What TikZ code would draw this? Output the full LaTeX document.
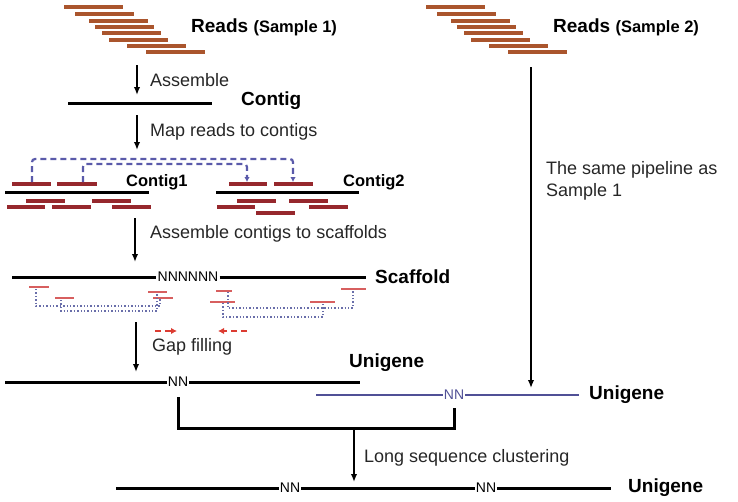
\documentclass[tikz,border=0pt]{standalone}
\usepackage{fontspec}
\setmainfont{Liberation Sans}
\usetikzlibrary{arrows.meta}
\definecolor{readbrown}{RGB}{170,85,45}
\definecolor{mapred}{RGB}{150,40,45}
\definecolor{gapred}{RGB}{220,60,50}
\definecolor{shortred}{RGB}{215,95,95}
\definecolor{linkblue}{RGB}{90,90,170}
\definecolor{dotblue}{RGB}{105,110,170}
\definecolor{uniblue}{RGB}{80,80,150}
\tikzset{
  read/.style={readbrown,line width=3.2pt},
  ctgread/.style={mapred,line width=3.2pt},
  shortread/.style={shortred,line width=1.5pt},
  seq/.style={black,line width=3pt},
  flow/.style={-{Latex[length=8pt,width=6.5pt]},line width=1.7pt},
  link/.style={linkblue,line width=2.2pt,dash pattern=on 6pt off 4pt,rounded corners=3pt,-{Latex[length=5pt,width=5.5pt]}},
  dotlink/.style={dotblue,line width=1.4pt,dash pattern=on 1.4pt off 2pt},
  gaparrow/.style={gapred,line width=2.6pt,dash pattern=on 6pt off 4pt,-{Latex[length=6pt,width=6.5pt]}},
  txt/.style={anchor=west,inner sep=0pt,text=black!85,font=\fontsize{18}{22}\selectfont},
  seqname/.style={anchor=west,inner sep=0pt,font=\fontsize{19}{22}\selectfont\bfseries},
  ctgname/.style={anchor=west,inner sep=0pt,font=\fontsize{16.5}{20}\selectfont\bfseries},
  nn/.style={inner sep=1pt,font=\fontsize{14}{14}\selectfont}
}
\begin{document}
\begin{tikzpicture}[x=1pt,y=-1pt]
\useasboundingbox (0,0) rectangle (738,501);

%reads of both samples
\foreach \s/\dx in {1/0,2/362}{
  \foreach \xa/\ya in {64/7,75/14,89/21,95/27,102/33,109/40,127/46,146/52}
    \draw[read] (\xa+\dx,\ya) -- ++(59,0);
  \node[seqname] (reads\s) at (191+\dx,27) {Reads {\fontsize{16.5}{18}\selectfont (Sample \s)}};
}

%assemble
\coordinate (as1) at (137,65);
\coordinate (ae1) at (137,95);
\draw[flow] (as1) -- (ae1);
\node[txt] (assemble) at (150,80) {Assemble};
\draw[seq] (68,103) -- (212,103);
\node[seqname] (contig) at (241,101) {Contig};

%map reads
\coordinate (as2) at (137,115);
\coordinate (ae2) at (137,150);
\draw[flow] (as2) -- (ae2);
\node[txt] (mapreads) at (150,132) {Map reads to contigs};

%contig1
\draw[seq] (5,192) -- (149,192);
\foreach \xa/\xb/\ya in {12/51/184,57/97/184,26/65/201,92/131/201,7/45/207,52/91/207,112/151/207}
  \draw[ctgread] (\xa,\ya) -- (\xb,\ya);
\node[ctgname] (contig1) at (126,182) {Contig1};

%contig2
\draw[seq] (216,192) -- (359,192);
\foreach \xa/\xb/\ya in {229/267/184,274/313/184,237/276/201,289/328/201,217/255/207,309/348/207,256/295/213}
  \draw[ctgread] (\xa,\ya) -- (\xb,\ya);
\node[ctgname] (contig2) at (343,182) {Contig2};

%links between reads
\coordinate (ra) at (32,182);
\coordinate (rb) at (83,182);
\coordinate (rc) at (247,182);
\coordinate (rd) at (293,182);
\draw[link] (ra) -- ++(0,-23) -| (rd);
\draw[link] (rb) -- ++(0,-18) -| (rc);

%scaffold
\coordinate (as3) at (135,218);
\coordinate (ae3) at (135,262);
\draw[flow] (as3) -- (ae3);
\node[txt] (asmscaf) at (150,234) {Assemble contigs to scaffolds};
\node[nn] (gap6) at (188,277) {NNNNNN};
\draw[seq] (12,277) -- (gap6.west);
\draw[seq] (gap6.east) -- (366,277);
\node[seqname] (scaffold) at (375,277) {Scaffold};

\foreach \xa/\xb/\ya in {29/49/287,55/74/298,148/167/292,153/173/298,216/232/291,210/235/302,310/335/302,341/366/289}
  \draw[shortread] (\xa,\ya) -- (\xb,\ya);
\draw[dotlink] (36,289) |- (160,306) -- (160,299);
\draw[dotlink] (61,300) |- (157,311) -- (157,293);
\draw[dotlink] (228,292) |- (353,308) -- (353,290);
\draw[dotlink] (223,303) |- (323,317) -- (323,303);

%gap filling
\draw[gaparrow] (155,331) -- (177,331);
\draw[gaparrow] (247,331) -- (218,331);
\coordinate (as4) at (136,322);
\coordinate (ae4) at (136,372);
\draw[flow] (as4) -- (ae4);
\node[txt] (gapfill) at (152,347) {Gap filling};

%unigene of sample 1
\node[nn] (nn1) at (178,382) {NN};
\draw[seq] (5,382) -- (nn1.west);
\draw[seq] (nn1.east) -- (360,382);
\node[seqname] (unigene1) at (349,363) {Unigene};

%sample 2
\coordinate (as5) at (531,67);
\coordinate (ae5) at (531,388);
\draw[flow] (as5) -- (ae5);
\node[txt,align=left] (samepipe) at (546,181) {The same pipeline as\\Sample 1};
\node[nn,text=uniblue] (nn2) at (454,395) {NN};
\draw[seq,uniblue,line width=2.4pt] (316,395) -- (nn2.west);
\draw[seq,uniblue,line width=2.4pt] (nn2.east) -- (579,395);
\node[seqname] (unigene2) at (589,395) {Unigene};

%clustering
\coordinate (bmid) at (354,428);
\coordinate (ae6) at (354,482);
\draw[seq] ([yshift=-9pt]nn1.south) |- (bmid) -| ([yshift=-7pt]nn2.south);
\draw[flow] (bmid) -- (ae6);
\node[txt] (cluster) at (364,458) {Long sequence clustering};

%final unigene
\node[nn] (nn3) at (290,488) {NN};
\node[nn] (nn4) at (486,488) {NN};
\draw[seq] (116,488) -- (nn3.west);
\draw[seq] (nn3.east) -- (nn4.west);
\draw[seq] (nn4.east) -- (611,488);
\node[seqname] (unigene3) at (628,488) {Unigene};
\end{tikzpicture}
\end{document}
